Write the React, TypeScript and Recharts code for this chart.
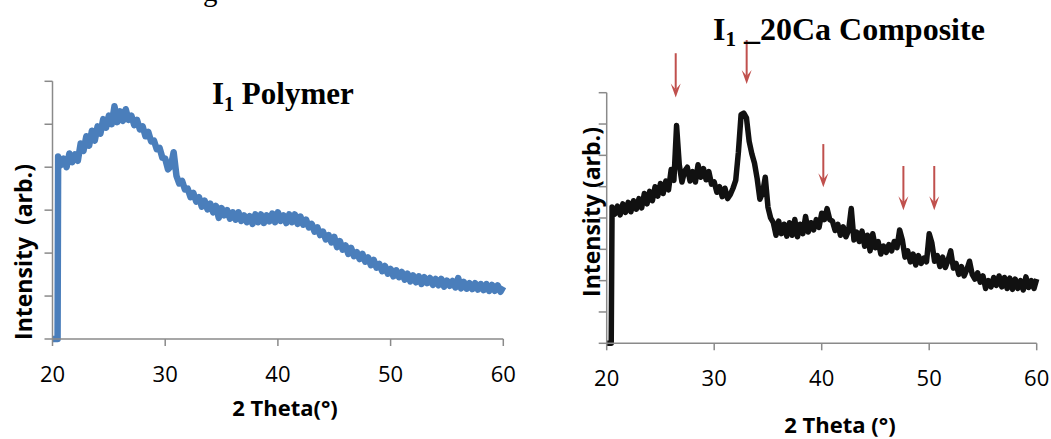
import { Line, LineChart, ReferenceLine, XAxis, YAxis } from "recharts";

// 2θ axis shared by both panels
const thetaTicks = [20, 30, 40, 50, 60];
const thetaStart = 20.5;
const thetaStep = 0.25;

// I1 polymer (left panel)
const polymerTicks = [0, 1, 2, 3, 4, 5, 6];
const polymerLeadTheta = [20, 20.45];
const polymerLeadIntensity = [0, 0];
const polymerIntensity = [
  4.25, 4.05, 4.2, 4.0, 4.32, 4.12, 4.3, 4.15, 4.55, 4.38, 4.72, 4.5,
  4.85, 4.62, 4.95, 4.78, 5.12, 4.92, 5.2, 5.0, 5.42, 5.05, 5.3, 5.08,
  5.35, 5.1, 5.2, 4.98, 5.1, 4.88, 4.95, 4.72, 4.82, 4.6, 4.62, 4.42,
  4.45, 4.22, 4.2, 3.95, 4.02, 4.35, 3.8, 3.62, 3.68, 3.48, 3.5, 3.3,
  3.4, 3.2, 3.3, 3.08, 3.22, 3.02, 3.15, 2.95, 3.1, 2.82, 3.05, 2.88,
  3.0, 2.8, 2.95, 2.78, 2.95, 2.75, 2.88, 2.72, 2.86, 2.68, 2.9, 2.72,
  2.9, 2.7, 2.88, 2.74, 2.92, 2.72, 2.95, 2.75, 2.88, 2.7, 2.9, 2.72,
  2.9, 2.68, 2.85, 2.66, 2.78, 2.6, 2.68, 2.5, 2.6, 2.42, 2.5, 2.32,
  2.42, 2.25, 2.38, 2.14, 2.28, 2.08, 2.18, 1.98, 2.12, 1.93, 2.02, 1.86,
  1.98, 1.8, 1.9, 1.72, 1.84, 1.66, 1.75, 1.58, 1.7, 1.52, 1.63, 1.46,
  1.6, 1.44, 1.56, 1.38, 1.52, 1.34, 1.48, 1.32, 1.46, 1.28, 1.44, 1.3,
  1.42, 1.26, 1.4, 1.25, 1.4, 1.22, 1.36, 1.24, 1.35, 1.2, 1.42, 1.18,
  1.33, 1.17, 1.3, 1.16, 1.3, 1.15, 1.28, 1.14, 1.28, 1.12, 1.26, 1.12,
  1.25, 1.1, 1.22,
];

// I1_20Ca composite (right panel)
const compositeTicks = [0, 1, 2, 3, 4, 5, 6, 7, 8];
const compositeLeadTheta = [20, 20.42];
const compositeLeadIntensity = [0, 0];
const compositeIntensity = [
  4.35, 4.12, 4.38, 4.1, 4.45, 4.18, 4.5, 4.2, 4.55, 4.28, 4.62, 4.32,
  4.78, 4.45, 4.85, 4.55, 5.0, 4.7, 5.1, 4.78, 5.18, 4.9, 5.55, 5.2,
  6.95, 5.7, 5.15, 5.5, 5.62, 5.18, 5.48, 5.15, 5.7, 5.3, 5.58, 5.22,
  5.48, 5.08, 5.15, 4.82, 5.0, 4.68, 4.95, 4.62, 4.75, 4.95, 5.2, 6.1,
  7.3, 7.35, 7.2, 6.45, 6.05, 5.75, 5.25, 4.6, 4.8, 5.3, 4.35, 4.0,
  3.85, 3.45, 3.9, 3.5, 3.8, 3.42, 3.85, 3.45, 3.95, 3.4, 3.8, 3.5,
  4.05, 3.55, 3.85, 3.62, 3.95, 3.7, 4.15, 3.95, 4.3, 3.95, 3.9, 3.6,
  3.8, 3.45, 3.72, 3.4, 3.6, 4.3, 3.3, 3.55, 3.25, 3.58, 3.1, 3.45,
  2.95, 3.5, 3.05, 3.25, 2.85, 3.1, 2.9, 3.15, 2.95, 3.25, 3.05, 3.62,
  3.3, 2.75, 2.95, 2.6, 2.85, 2.5, 2.8, 2.55, 2.72, 2.6, 3.5, 3.2,
  2.62, 2.8, 2.45, 2.75, 2.42, 2.65, 2.95, 2.4, 2.55, 2.2, 2.45, 2.15,
  2.35, 2.62, 2.2, 2.05, 2.25, 1.95, 2.15, 1.75, 2.0, 1.8, 2.1, 1.85,
  2.15, 1.8, 2.1, 1.75, 2.08, 1.72, 2.05, 1.75, 2.0, 1.7, 2.12, 1.78,
  2.0, 1.75, 2.05,
];

// peak markers on the composite (2θ, arrow tail, arrow tip)
const arrowTheta = [26.42, 33.02, 40.15, 47.6, 50.47];
const arrowTail = [9.26, 9.68, 6.36, 5.66, 5.66];
const arrowTip = [7.85, 8.28, 4.98, 4.25, 4.25];

const AXIS = "#8a8a8a";
const ARROW = "#c0504d";

function buildSeries(leadTheta: number[], leadI: number[], values: number[]) {
  const lead = leadTheta.map((theta, i) => ({ theta, intensity: leadI[i] }));
  const rest = values.map((intensity, i) => ({
    theta: +(thetaStart + i * thetaStep).toFixed(2),
    intensity,
  }));
  return [...lead, ...rest];
}

const polymerData = buildSeries(polymerLeadTheta, polymerLeadIntensity, polymerIntensity);
const compositeData = buildSeries(compositeLeadTheta, compositeLeadIntensity, compositeIntensity);

const ArrowShape = (props: any) => {
  const { x1, y1, x2, y2 } = props;
  return (
    <g>
      <line x1={x1} y1={y1} x2={x2} y2={y2 - 8} stroke={ARROW} strokeWidth={2} />
      <polygon
        points={`${x2 - 5},${y2 - 14} ${x2},${y2} ${x2 + 5},${y2 - 14} ${x2},${y2 - 8}`}
        fill={ARROW}
      />
    </g>
  );
};

// y ticks carry no labels, only the little marks
const NoLabel = () => <g />;

const xAxisProps = {
  type: "number" as const,
  dataKey: "theta",
  domain: [20, 60],
  ticks: thetaTicks,
  interval: 0 as const,
  tickSize: 7,
  tickMargin: 20,
  height: 30,
  axisLine: { stroke: AXIS, strokeWidth: 1.5 },
  tickLine: { stroke: AXIS, strokeWidth: 1.5 },
  tick: { fill: "#000", fontSize: 22, fontFamily: "Open Sans" },
};

const yAxisProps = {
  type: "number" as const,
  width: 20,
  tickSize: 8,
  tick: NoLabel,
  interval: 0 as const,
  axisLine: { stroke: AXIS, strokeWidth: 1.5 },
  tickLine: { stroke: AXIS, strokeWidth: 1.5 },
};

const labelFont = { fontFamily: "Open Sans", fontWeight: 700, fontSize: 22, fill: "#000" };
const titleFont = { fontFamily: "Liberation Serif", fontWeight: 700, fill: "#000" };

export default function App() {
  return (
    <div style={{ position: "absolute", left: 0, top: 0, width: 1051, height: 439, background: "#fff" }}>
      <div style={{ position: "absolute", left: 0, top: 0 }}>
        <LineChart
          width={520}
          height={439}
          data={polymerData}
          margin={{ top: 81.3, right: 16.7, bottom: 70, left: 32.5 }}
        >
          <XAxis {...xAxisProps} />
          <YAxis {...yAxisProps} domain={[0, 6]} ticks={polymerTicks} />
          <Line
            type="linear"
            dataKey="intensity"
            stroke="#4a7ebb"
            strokeWidth={6.5}
            strokeLinejoin="round"
            dot={false}
            isAnimationActive={false}
          />
        </LineChart>
      </div>
      <div style={{ position: "absolute", left: 540, top: 0 }}>
        <LineChart
          width={511}
          height={439}
          data={compositeData}
          margin={{ top: 92.7, right: 14.3, bottom: 65.7, left: 46.7 }}
        >
          <XAxis {...xAxisProps} />
          <YAxis {...yAxisProps} domain={[0, 8]} ticks={compositeTicks} />
          <Line
            type="linear"
            dataKey="intensity"
            stroke="#111"
            strokeWidth={5.5}
            strokeLinejoin="round"
            dot={false}
            isAnimationActive={false}
          />
          {arrowTheta.map((theta, i) => (
            <ReferenceLine
              key={i}
              segment={[
                { x: theta, y: arrowTail[i] },
                { x: theta, y: arrowTip[i] },
              ]}
              ifOverflow="visible"
              shape={ArrowShape}
            />
          ))}
        </LineChart>
      </div>
      <svg
        width={1051}
        height={439}
        style={{ position: "absolute", left: 0, top: 0, pointerEvents: "none" }}
      >
        <text x={203} y={0.5} fontFamily="Liberation Serif" fontSize={29} fill="#000">
          g
        </text>
        <text x={212} y={104} fontSize={31} {...titleFont}>
          I
          <tspan fontSize={20} dy={7}>1</tspan>
          <tspan dy={-7}> Polymer</tspan>
        </text>
        <text x={713} y={40} fontSize={32} {...titleFont}>
          I
          <tspan fontSize={21} dy={6}>1</tspan>
          <tspan dy={-6}> _20Ca Composite</tspan>
        </text>
        <text x={285} y={416} textAnchor="middle" {...labelFont}>
          2 Theta(°)
        </text>
        <text x={840} y={433} textAnchor="middle" {...labelFont}>
          2 Theta (°)
        </text>
        <text
          x={24}
          y={252}
          dy="0.35em"
          textAnchor="middle"
          transform="rotate(-90, 24, 252)"
          style={{ whiteSpace: "pre" }}
          {...labelFont}
          fontSize={23}
        >
          {"Intensity  (arb.)"}
        </text>
        <text
          x={591.5}
          y={212}
          dy="0.35em"
          textAnchor="middle"
          transform="rotate(-90, 591.5, 212)"
          {...labelFont}
          fontSize={23}
        >
          Intensity (arb.)
        </text>
      </svg>
    </div>
  );
}
